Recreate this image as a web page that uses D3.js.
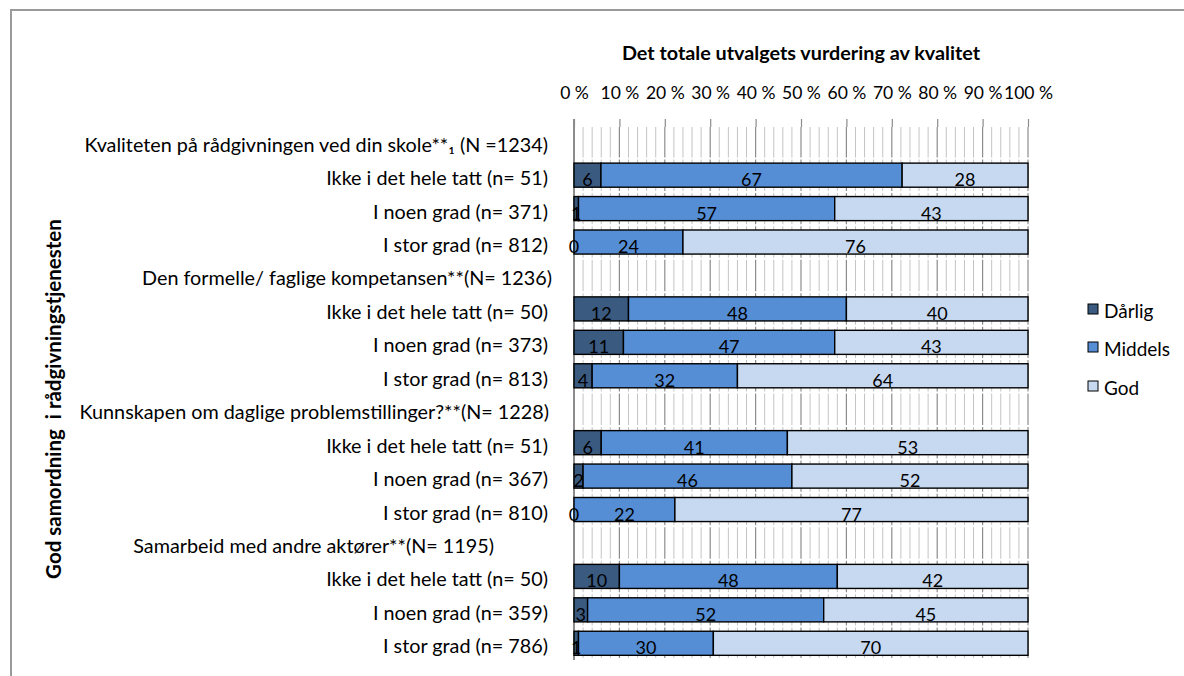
<!DOCTYPE html>
<html>
<head>
<meta charset="utf-8">
<script src="https://cdn.jsdelivr.net/npm/d3@7"></script>
<style>
  html, body { margin: 0; padding: 0; background: #fff; }
  svg { display: block; }
  text { font-family: Lato, "Open Sans", sans-serif; fill: #000; }
</style>
</head>
<body>
<svg id="chart" width="1184" height="676"></svg>
<script>
// ---------- data ----------
const groupLabels = [
  "Kvaliteten på rådgivningen ved din skole**₁ (N =1234)",
  "Den formelle/ faglige kompetansen**(N= 1236)",
  "Kunnskapen om daglige problemstillinger?**(N= 1228)",
  "Samarbeid med andre aktører**(N= 1195)"
];
const rowLabels = [
  ["Ikke i det hele tatt (n= 51)", "I noen grad (n= 371)", "I stor grad (n= 812)"],
  ["Ikke i det hele tatt (n= 50)", "I noen grad (n= 373)", "I stor grad (n= 813)"],
  ["Ikke i det hele tatt (n= 51)", "I noen grad (n= 367)", "I stor grad (n= 810)"],
  ["Ikke i det hele tatt (n= 50)", "I noen grad (n= 359)", "I stor grad (n= 786)"]
];
const seriesNames = ["Dårlig", "Middels", "God"];
const darlig  = [6, 1, 0,  12, 11, 4,  6, 2, 0,  10, 3, 1];
const middels = [67, 57, 24, 48, 47, 32, 41, 46, 22, 48, 52, 30];
const god     = [28, 43, 76, 40, 43, 64, 53, 52, 77, 42, 45, 70];
const tickLabels = ["0 %", "10 %", "20 %", "30 %", "40 %", "50 %", "60 %", "70 %", "80 %", "90 %", "100 %"];
const chartTitle = "Det totale utvalgets vurdering av kvalitet";
const yTitle = "God samordning  i rådgivningstjenesten";

// ---------- build rows ----------
const rows = [];
let bi = 0;
groupLabels.forEach((g, gi) => {
  rows.push({ id: rows.length, label: g, header: true, gi });
  rowLabels[gi].forEach(l => {
    rows.push({ id: rows.length, label: l, header: false, vals: [darlig[bi], middels[bi], god[bi]] });
    bi++;
  });
});

const colors = ["#3a5a80", "#558ed5", "#c6d9f1"];
const FONT = "Lato, 'Open Sans', sans-serif";

const svg = d3.select("#chart");
svg.append("rect").attr("x", 11).attr("y", 10).attr("width", 1400).attr("height", 1000)
  .attr("fill", "#fff").attr("stroke", "#9a9a9a").attr("stroke-width", 2);

const x = d3.scaleLinear().domain([0, 1]).range([574, 1028]);
const y = d3.scaleBand().domain(rows.map(r => r.id)).range([125, 660])
  .paddingInner(0.28).paddingOuter(0.14);

const plotTop = 127, plotBottom = 658;

// minor gridlines
const minor = d3.range(0, 101, 2).filter(v => v % 10 !== 0).map(v => v / 100);
svg.append("g").selectAll("line").data(minor).join("line")
  .attr("x1", d => x(d)).attr("x2", d => x(d))
  .attr("y1", plotTop).attr("y2", plotBottom)
  .attr("stroke", "#c4c4c4").attr("stroke-width", 1);
// major gridlines
const major = d3.range(0, 11).map(v => v / 10);
svg.append("g").selectAll("line").data(major).join("line")
  .attr("x1", d => x(d)).attr("x2", d => x(d))
  .attr("y1", plotTop).attr("y2", plotBottom)
  .attr("stroke", "#8c8c8c").attr("stroke-width", 1.2);

// white separators at band boundaries
const step = y.step();
svg.append("g").selectAll("line").data(d3.range(1, rows.length)).join("line")
  .attr("x1", x(0) + 1).attr("x2", x(1) + 1)
  .attr("y1", d => 125 + d * step).attr("y2", d => 125 + d * step)
  .attr("stroke", "#fff").attr("stroke-width", 2);

// top axis
const axis = d3.axisTop(x).tickValues(major)
  .tickFormat((d, i) => tickLabels[i]).tickSize(8).tickPadding(20);
const ag = svg.append("g").attr("transform", `translate(0,${plotTop})`).call(axis);
ag.select(".domain").remove();
ag.selectAll(".tick line").attr("stroke", "#8c8c8c").attr("stroke-width", 1.2);
ag.selectAll(".tick text").style("font-family", FONT)
  .style("font-size", "17.5px").attr("fill", "#000");

// left axis line
svg.append("line").attr("x1", x(0)).attr("x2", x(0)).attr("y1", 119).attr("y2", 660)
  .attr("stroke", "#8c8c8c").attr("stroke-width", 2);

// bars
const barRows = rows.filter(r => !r.header);
const segs = [];
barRows.forEach(r => {
  const total = d3.sum(r.vals);
  let acc = 0;
  r.vals.forEach((v, si) => {
    segs.push({ row: r.id, si, v, x0: acc / total, x1: (acc + v) / total });
    acc += v;
  });
});
svg.append("g").selectAll("rect").data(segs).join("rect")
  .attr("x", d => x(d.x0)).attr("width", d => Math.max(0, x(d.x1) - x(d.x0)))
  .attr("y", d => y(d.row)).attr("height", y.bandwidth())
  .attr("fill", d => colors[d.si]).attr("stroke", "#000").attr("stroke-width", 1.4);

// data labels
svg.append("g").selectAll("text").data(segs).join("text")
  .attr("x", d => (x(d.x0) + x(d.x1)) / 2)
  .attr("y", d => y(d.row) + y.bandwidth() / 2 + 4)
  .attr("text-anchor", "middle").attr("dominant-baseline", "central")
  .style("font-size", "18px").text(d => d.v);

// category labels (right edge at 548; a few header labels sit slightly off)
const shift = { 1: 4, 2: 1, 3: -54 };
svg.append("g").selectAll("text").data(rows).join("text")
  .attr("x", d => 548 + (d.header && shift[d.gi] ? shift[d.gi] : 0))
  .attr("y", d => y(d.id) + y.bandwidth() / 2 + 2)
  .attr("text-anchor", "end").attr("dominant-baseline", "central")
  .style("font-size", "19.8px").text(d => d.label);

// title
svg.append("text").attr("x", (x(0) + x(1)) / 2).attr("y", 52)
  .attr("text-anchor", "middle").attr("dominant-baseline", "central")
  .style("font-size", "19.8px").style("font-weight", "bold").text(chartTitle);

// y title
svg.append("text").attr("transform", "translate(53,399) rotate(-90)")
  .attr("text-anchor", "middle").attr("dominant-baseline", "central")
  .style("font-size", "20.5px").style("font-weight", "bold").attr("xml:space", "preserve").text(yTitle);

// legend
const legY = [309, 347, 386];
const lg = svg.append("g").selectAll("g").data(seriesNames).join("g")
  .attr("transform", (d, i) => `translate(1088,${legY[i]})`);
lg.append("rect").attr("x", 0).attr("y", -5).attr("width", 10).attr("height", 10)
  .attr("fill", (d, i) => colors[i]).attr("stroke", "#000").attr("stroke-width", 1);
lg.append("text").attr("x", 16).attr("y", 1).attr("dominant-baseline", "central")
  .style("font-size", "19px").text(d => d);
</script>
</body>
</html>
